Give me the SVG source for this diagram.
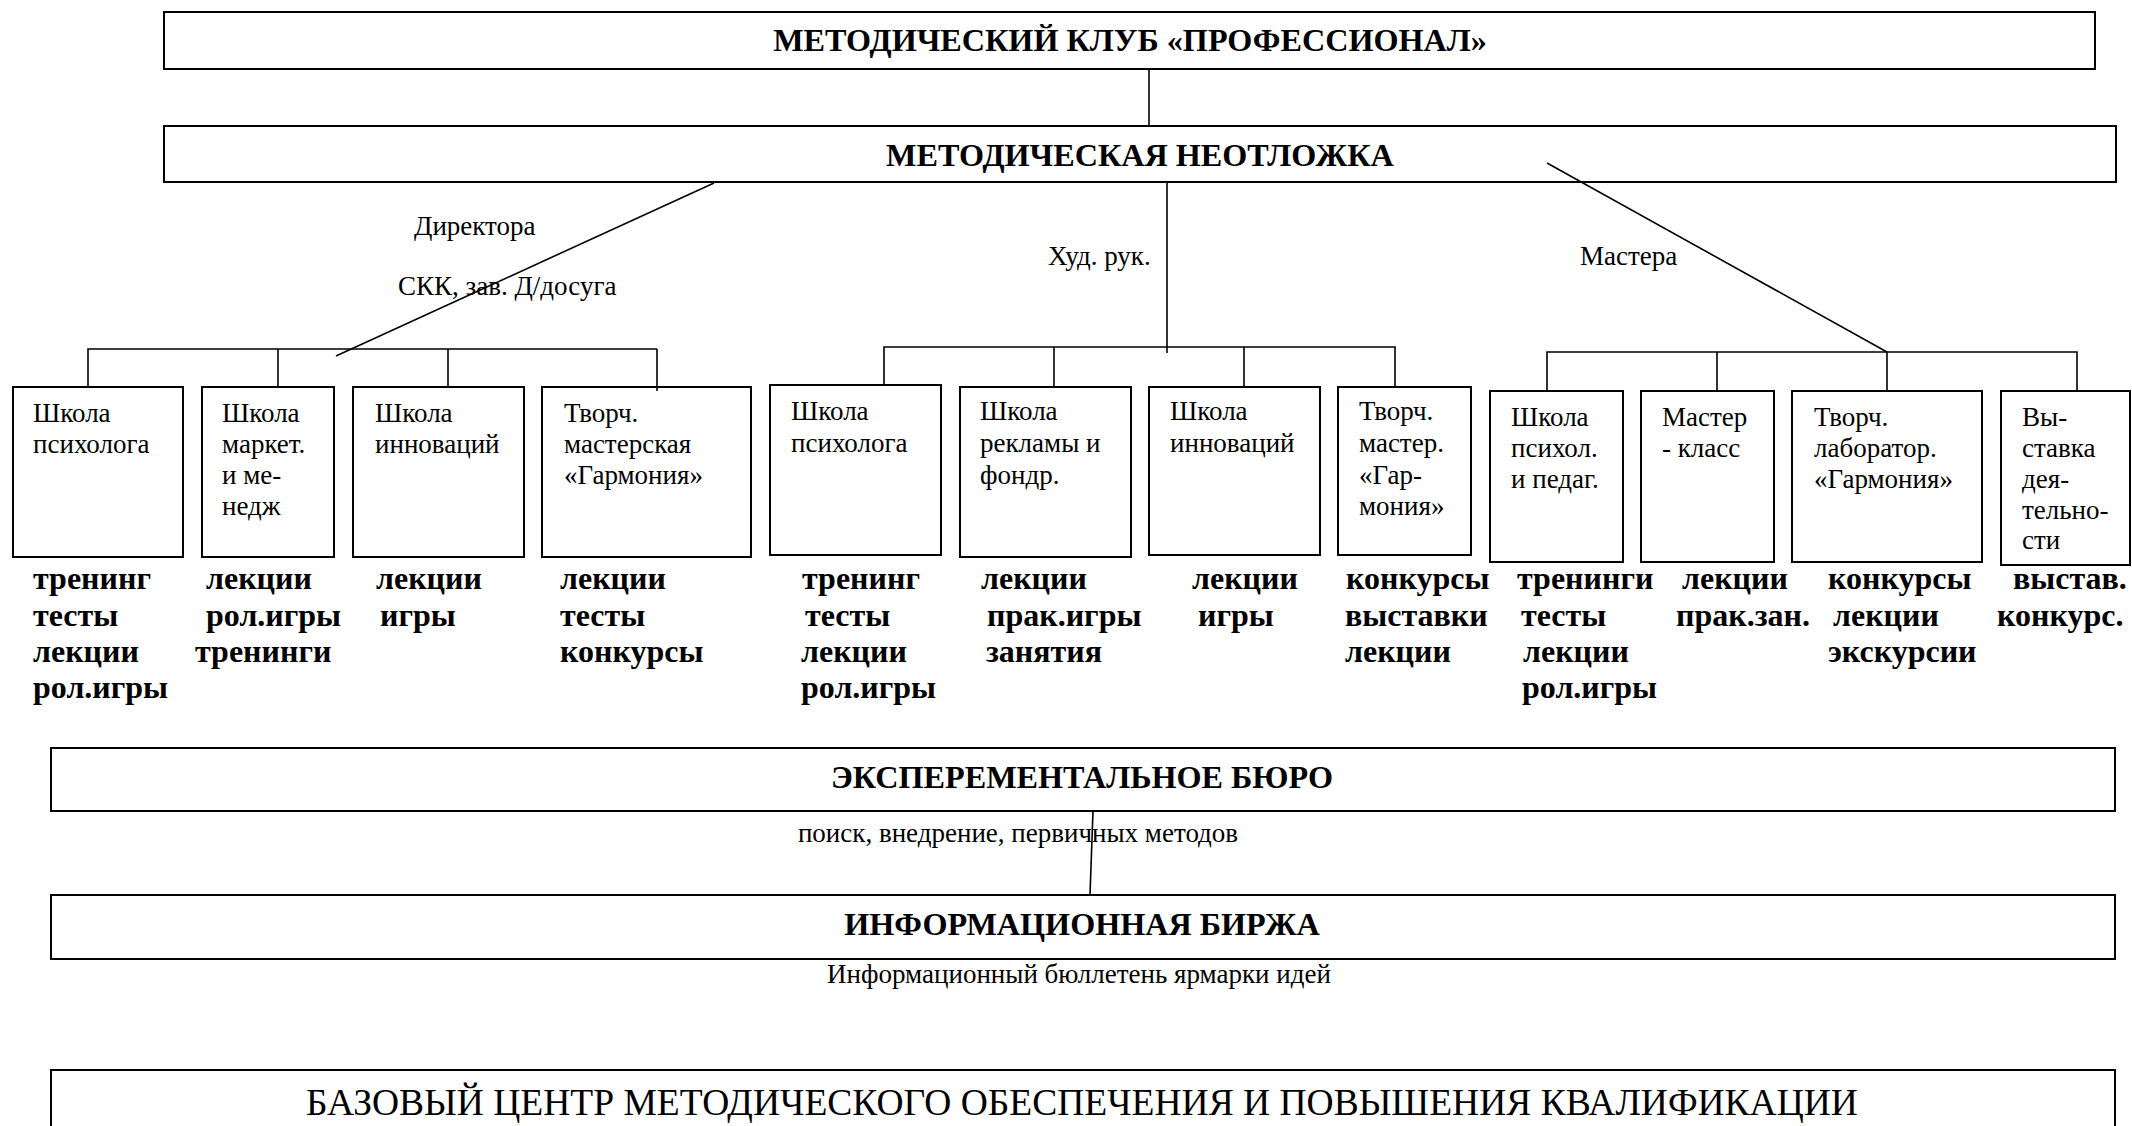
<svg xmlns="http://www.w3.org/2000/svg" width="2132" height="1126" viewBox="0 0 2132 1126">
<style>
.box{fill:#fff;stroke:#000;stroke-width:2}
.ln{stroke:#000;stroke-width:1.6;fill:none}
text{font-family:"Liberation Serif","Times New Roman",serif;fill:#000}
.r{font-size:27px}
.h{font-size:32.2px;font-weight:bold;text-anchor:middle}
.b{font-size:32px;font-weight:bold}
.c{text-anchor:middle}
</style>
<rect width="2132" height="1126" fill="#fff"/>
<g id="club">
<rect class="box" x="164" y="12" width="1931" height="57"/>
<text class="h" x="1130" y="51">МЕТОДИЧЕСКИЙ КЛУБ «ПРОФЕССИОНАЛ»</text>
</g>
<g id="neotlozhka">
<rect class="box" x="164" y="126" width="1952" height="56"/>
<text class="h" x="1140" y="166">МЕТОДИЧЕСКАЯ НЕОТЛОЖКА</text>
</g>
<g id="labels">
<text class="r" x="414" y="235">Директора</text>
<text class="r" x="398" y="295">СКК, зав. Д/досуга</text>
<text class="r" x="1048" y="265">Худ. рук.</text>
<text class="r" x="1580" y="265">Мастера</text>
</g>
<g id="n1">
<rect class="box" x="13" y="387" width="170" height="170"/>
<text class="r" x="33" y="422">Школа<tspan x="33" y="453">психолога</tspan></text>
</g>
<g id="n2">
<rect class="box" x="202" y="387" width="132" height="170"/>
<text class="r" x="222" y="422">Школа<tspan x="222" y="453">маркет.</tspan><tspan x="222" y="484">и ме-</tspan><tspan x="222" y="515">недж</tspan></text>
</g>
<g id="n3">
<rect class="box" x="353" y="387" width="171" height="170"/>
<text class="r" x="375" y="422">Школа<tspan x="375" y="453">инноваций</tspan></text>
</g>
<g id="n4">
<rect class="box" x="542" y="387" width="209" height="170"/>
<text class="r" x="564" y="422">Творч.<tspan x="564" y="453">мастерская</tspan><tspan x="564" y="484">«Гармония»</tspan></text>
</g>
<g id="n5">
<rect class="box" x="770" y="385" width="171" height="170"/>
<text class="r" x="791" y="420">Школа<tspan x="791" y="452">психолога</tspan></text>
</g>
<g id="n6">
<rect class="box" x="960" y="387" width="171" height="170"/>
<text class="r" x="980" y="420">Школа<tspan x="980" y="452">рекламы и</tspan><tspan x="980" y="484">фондр.</tspan></text>
</g>
<g id="n7">
<rect class="box" x="1149" y="387" width="171" height="168"/>
<text class="r" x="1170" y="420">Школа<tspan x="1170" y="452">инноваций</tspan></text>
</g>
<g id="n8">
<rect class="box" x="1338" y="387" width="133" height="168"/>
<text class="r" x="1359" y="420">Творч.<tspan x="1359" y="452">мастер.</tspan><tspan x="1359" y="484">«Гар-</tspan><tspan x="1359" y="515">мония»</tspan></text>
</g>
<g id="n9">
<rect class="box" x="1490" y="391" width="133" height="171"/>
<text class="r" x="1511" y="426">Школа<tspan x="1511" y="457">психол.</tspan><tspan x="1511" y="488">и педаг.</tspan></text>
</g>
<g id="n10">
<rect class="box" x="1641" y="391" width="133" height="171"/>
<text class="r" x="1662" y="426">Мастер<tspan x="1662" y="457">- класс</tspan></text>
</g>
<g id="n11">
<rect class="box" x="1792" y="391" width="190" height="171"/>
<text class="r" x="1814" y="426">Творч.<tspan x="1814" y="457">лаборатор.</tspan><tspan x="1814" y="488">«Гармония»</tspan></text>
</g>
<g id="n12">
<rect class="box" x="2001" y="391" width="129" height="174"/>
<text class="r" x="2022" y="426">Вы-<tspan x="2022" y="457">ставка</tspan><tspan x="2022" y="488">дея-</tspan><tspan x="2022" y="519">тельно-</tspan><tspan x="2022" y="549">сти</tspan></text>
</g>
<g id="activities">
<text class="b" x="33" y="589">тренинг<tspan x="33" y="626">тесты</tspan><tspan x="33" y="662">лекции</tspan><tspan x="33" y="698">рол.игры</tspan></text>
<text class="b" x="206" y="589">лекции<tspan x="206" y="626">рол.игры</tspan><tspan x="195" y="662">тренинги</tspan></text>
<text class="b" x="376" y="589">лекции<tspan x="380" y="626">игры</tspan></text>
<text class="b" x="560" y="589">лекции<tspan x="560" y="626">тесты</tspan><tspan x="560" y="662">конкурсы</tspan></text>
<text class="b" x="802" y="589">тренинг<tspan x="805" y="626">тесты</tspan><tspan x="801" y="662">лекции</tspan><tspan x="801" y="698">рол.игры</tspan></text>
<text class="b" x="981" y="589">лекции<tspan x="987" y="626">прак.игры</tspan><tspan x="986" y="662">занятия</tspan></text>
<text class="b" x="1192" y="589">лекции<tspan x="1198" y="626">игры</tspan></text>
<text class="b" x="1346" y="589">конкурсы<tspan x="1345" y="626">выставки</tspan><tspan x="1345" y="662">лекции</tspan></text>
<text class="b" x="1517" y="589">тренинги<tspan x="1521" y="626">тесты</tspan><tspan x="1523" y="662">лекции</tspan><tspan x="1522" y="698">рол.игры</tspan></text>
<text class="b" x="1682" y="589">лекции<tspan x="1676" y="626">прак.зан.</tspan></text>
<text class="b" x="1828" y="589">конкурсы<tspan x="1833" y="626">лекции</tspan><tspan x="1828" y="662">экскурсии</tspan></text>
<text class="b" x="2013" y="589">выстав.<tspan x="1997" y="626">конкурс.</tspan></text>
</g>
<g id="bureau">
<rect class="box" x="51" y="748" width="2064" height="63"/>
<text class="h" x="1082" y="788">ЭКСПЕРЕМЕНТАЛЬНОЕ БЮРО</text>
</g>
<text class="r c" x="1018" y="842">поиск, внедрение, первичных методов</text>
<g id="exchange">
<rect class="box" x="51" y="895" width="2064" height="64"/>
<text class="h" x="1082" y="935">ИНФОРМАЦИОННАЯ БИРЖА</text>
</g>
<text class="r c" x="1079" y="983">Информационный бюллетень ярмарки идей</text>
<g id="base">
<rect class="box" x="51" y="1070" width="2064" height="70"/>
<text class="c" x="1082" y="1115" font-size="37.5">БАЗОВЫЙ ЦЕНТР МЕТОДИЧЕСКОГО ОБЕСПЕЧЕНИЯ И ПОВЫШЕНИЯ КВАЛИФИКАЦИИ</text>
</g>
<g id="connectors">
<line class="ln" x1="1149" y1="69" x2="1149" y2="126"/>
<line class="ln" x1="714" y1="183" x2="336" y2="356"/>
<line class="ln" x1="1167" y1="182" x2="1167" y2="353"/>
<line class="ln" x1="1547" y1="163" x2="1887" y2="352"/>
<polyline class="ln" points="88,387 88,349 657,349"/>
<line class="ln" x1="278" y1="349" x2="278" y2="387"/>
<line class="ln" x1="448" y1="349" x2="448" y2="387"/>
<line class="ln" x1="657" y1="349" x2="657" y2="391"/>
<polyline class="ln" points="884,385 884,347 1395,347 1395,387"/>
<line class="ln" x1="1054" y1="347" x2="1054" y2="387"/>
<line class="ln" x1="1244" y1="347" x2="1244" y2="387"/>
<polyline class="ln" points="1547,391 1547,352 2077,352 2077,391"/>
<line class="ln" x1="1717" y1="352" x2="1717" y2="391"/>
<line class="ln" x1="1887" y1="352" x2="1887" y2="391"/>
<line class="ln" x1="1093" y1="811" x2="1090" y2="895"/>
</g>
</svg>
